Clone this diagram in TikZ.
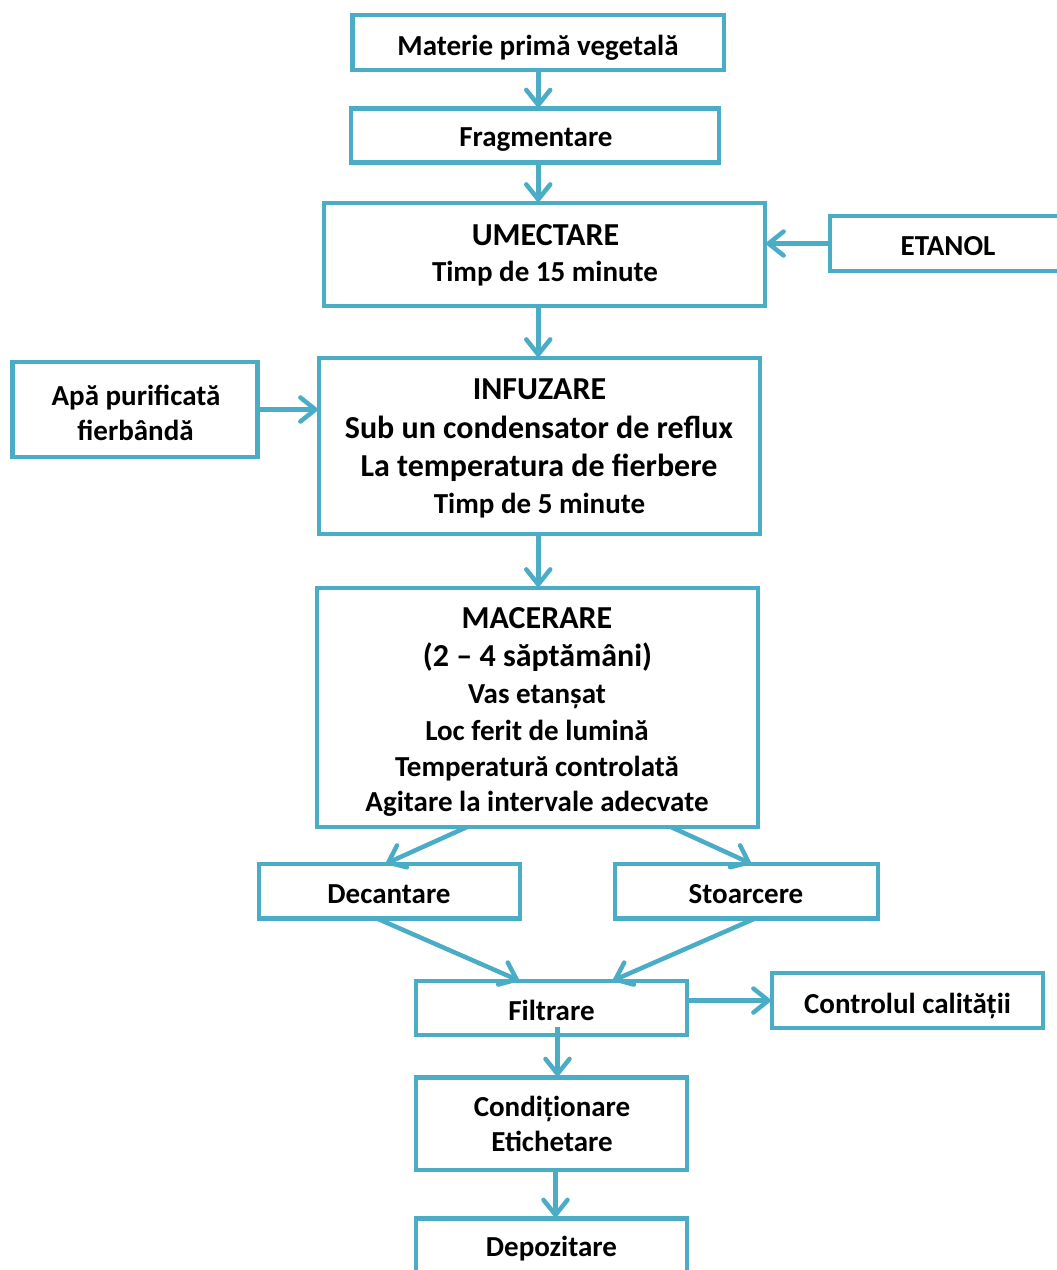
\documentclass[tikz,border=0pt]{standalone}
\usepackage{fontspec}
\setmainfont{Carlito}
\usetikzlibrary{arrows.meta,calc}
\definecolor{aqua}{RGB}{75,172,198}
\begin{document}
\begin{tikzpicture}[x=1pt,y=-1pt,
  box/.style={draw=aqua, line width=4.5pt, fill=white, inner sep=0pt, outer sep=0pt, rectangle},
  conn/.style={draw=aqua, line width=4.5pt, -{Straight Barb[length=15pt,width=24pt,line cap=round]}},
  tn/.style={anchor=base, inner sep=0pt, font=\fontsize{29}{35}\selectfont\bfseries},
  th/.style={anchor=base, inner sep=0pt, font=\fontsize{32}{39}\selectfont\bfseries}]
\useasboundingbox (0,0) rectangle (1057,1270);

% boxes
\node[box, minimum width=371.5pt, minimum height=55pt] (mat) at (538.25,42.5) {};
\node[box, minimum width=368pt, minimum height=54pt] (frag) at (535,135.5) {};
\node[box, minimum width=441pt, minimum height=103pt] (umect) at (544.5,254.5) {};
\node[box, minimum width=240pt, minimum height=55pt] (etanol) at (950,243.5) {};
\node[box, minimum width=245pt, minimum height=95pt] (apa) at (135,409.5) {};
\node[box, minimum width=441pt, minimum height=176pt] (inf) at (539.5,446) {};
\node[box, minimum width=441pt, minimum height=239pt] (mac) at (537.5,707.5) {};
\node[box, minimum width=261pt, minimum height=54.5pt] (dec) at (389.5,891.25) {};
\node[box, minimum width=263pt, minimum height=54.5pt] (sto) at (746.5,891.25) {};
\node[box, minimum width=271pt, minimum height=54pt] (filt) at (551.5,1008) {};
\node[box, minimum width=271pt, minimum height=55pt] (ctrl) at (907.5,1000.5) {};
\node[box, minimum width=271pt, minimum height=92.5pt] (cond) at (551.5,1123.75) {};
\node[box, minimum width=271pt, minimum height=73pt] (dep) at (551.5,1255) {};

% texts
\node[tn] (mat-t) at (538,55) {Materie primă vegetală};
\node[tn] (frag-t) at (536,146.7) {Fragmentare};
\node[th] (umect-t1) at (545.5,245.3) {UMECTARE};
\node[tn] (umect-t2) at (545,281.3) {Timp de 15 minute};
\node[tn] (etanol-t) at (948,255) {ETANOL};
\node[tn] (apa-t1) at (136,405) {Apă purificată};
\node[tn] (apa-t2) at (135.5,440) {fierbândă};
\node[th] (inf-t1) at (539.5,399) {INFUZARE};
\node[th] (inf-t2) at (539,438.3) {Sub un condensator de reflux};
\node[th] (inf-t3) at (539,476.7) {La temperatura de fierbere};
\node[tn] (inf-t4) at (539.5,513.3) {Timp de 5 minute};
\node[th] (mac-t1) at (537,628.3) {MACERARE};
\node[th] (mac-t2) at (537.5,666.7) {(2 – 4 săptămâni)};
\node[tn] (mac-t3) at (537,703.3) {Vas etanșat};
\node[tn] (mac-t4) at (537,740) {Loc ferit de lumină};
\node[tn] (mac-t5) at (537,776) {Temperatură controlată};
\node[tn] (mac-t6) at (537,811.7) {Agitare la intervale adecvate};
\node[tn] (dec-t) at (389,903.3) {Decantare};
\node[tn] (sto-t) at (746,903.3) {Stoarcere};
\node[tn] (filt-t) at (551.5,1020) {Filtrare};
\node[tn] (ctrl-t) at (907.5,1013.3) {Controlul calității};
\node[tn] (cond-t1) at (552,1116.7) {Condiționare};
\node[tn] (cond-t2) at (552,1151.7) {Etichetare};
\node[tn] (dep-t) at (551.5,1256.7) {Depozitare};

% connectors
\draw[conn] (mat.south) -- (mat.south |- frag.north);
\draw[conn] (frag.south -| mat.south) -- (umect.north -| mat.south);
\draw[conn] (etanol.west) -- (etanol.west -| umect.east);
\draw[conn] (umect.south -| mat.south) -- (inf.north -| mat.south);
\draw[conn] (apa.east) -- (apa.east -| inf.west);
\draw[conn] (inf.south -| mat.south) -- (mac.north -| mat.south);
\draw[conn] ([xshift=-70.5pt]mac.south) -- ([xshift=-4.5pt]dec.north);
\draw[conn] ([xshift=133.5pt]mac.south) -- ([xshift=5.5pt]sto.north);
\draw[conn] ([xshift=-12.5pt]dec.south) -- ([xshift=-31.5pt]filt.north);
\draw[conn] ([xshift=8.5pt]sto.south) -- ([xshift=60.5pt]filt.north);
\draw[conn] (filt.east |- ctrl.west) -- (ctrl.west);
\draw[conn] ([xshift=6pt,yshift=8pt]filt.south) -- ([xshift=6pt]cond.north);
\draw[conn] ([xshift=4pt]cond.south) -- ([xshift=4pt]dep.north);
\end{tikzpicture}
\end{document}
